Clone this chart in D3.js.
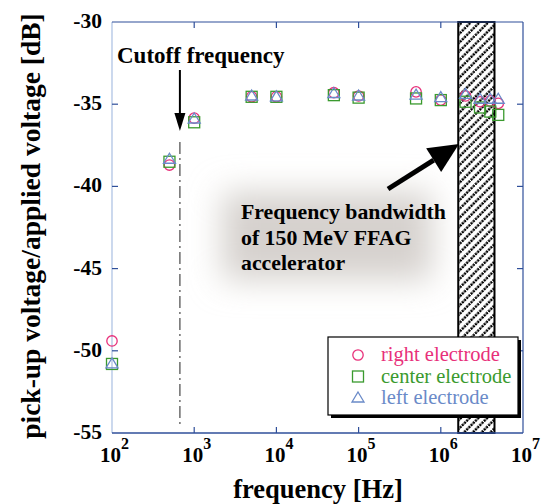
<!DOCTYPE html>
<html>
<head>
<meta charset="utf-8">
<script src="https://cdn.jsdelivr.net/npm/d3@7"></script>
<style>
  body { margin: 0; background: #fff; }
  svg { display: block; }
  text { font-family: "Liberation Serif", "Times New Roman", serif; }
</style>
</head>
<body>
<svg id="chart" width="541" height="504"></svg>
<script>
// measured frequencies (Hz)
var freqs = [100, 500, 1000, 5000, 10000, 50000, 100000, 500000, 1e6, 2e6, 3e6, 4e6, 5e6];
// response in dB for each electrode
var rightVals  = [-49.4, -38.7, -35.85, -34.55, -34.55, -34.3, -34.5, -34.25, -34.75, -34.5, -34.85, -34.8, -34.95];
var centerVals = [-50.8, -38.5, -36.1, -34.55, -34.55, -34.45, -34.6, -34.65, -34.75, -34.85, -35.2, -35.45, -35.65];
var leftVals   = [-50.8, -38.35, -35.9, -34.5, -34.55, -34.35, -34.5, -34.45, -34.6, -34.4, -34.7, -34.7, -34.7];
var yTicks = [-30, -35, -40, -45, -50, -55];
var xTicks = [1e2, 1e3, 1e4, 1e5, 1e6, 1e7];
var cutoff = 670;
var band = [1.63e6, 4.5e6];
var seriesNames = ["right electrode", "center electrode", "left electrode"];
var seriesColors = ["#e8307a", "#3a9a2e", "#6a8ac8"];

var svg = d3.select("#chart");
var m = {left: 112, right: 523, top: 22, bottom: 433};

var x = d3.scaleLog().domain([1e2, 1e7]).range([m.left, m.right]);
var y = d3.scaleLinear().domain([-55, -30]).range([m.bottom, m.top]);

var defs = svg.append("defs");
var pat = defs.append("pattern")
    .attr("id", "hatch")
    .attr("patternUnits", "userSpaceOnUse")
    .attr("width", 6.2).attr("height", 6.2)
    .attr("patternTransform", "rotate(45)");
pat.append("rect").attr("width", 6.2).attr("height", 6.2).attr("fill", "#fff");
pat.append("line").attr("x1", 1.5).attr("y1", 0).attr("x2", 1.5).attr("y2", 6.2)
    .attr("stroke", "#000").attr("stroke-width", 2.4).attr("stroke-dasharray", "2.3,0.8");

var blur = defs.append("filter").attr("id", "glow")
    .attr("x", "-40%").attr("y", "-80%").attr("width", "180%").attr("height", "260%");
blur.append("feGaussianBlur").attr("stdDeviation", 16);

// gray glow behind annotation
svg.append("rect")
    .attr("x", 222).attr("y", 192).attr("width", 210).attr("height", 88)
    .attr("fill", "#d6d1ce")
    .attr("filter", "url(#glow)");

// hatched bandwidth
svg.append("rect")
    .attr("x", x(band[0])).attr("y", m.top)
    .attr("width", x(band[1]) - x(band[0])).attr("height", m.bottom - m.top)
    .attr("fill", "url(#hatch)")
    .attr("stroke", "#000").attr("stroke-width", 2);

// frame
var axisBlue = "#2f4f9a";
svg.append("line").attr("x1", m.left).attr("x2", m.left).attr("y1", m.top).attr("y2", m.bottom)
    .attr("stroke", "#a9bfe2").attr("stroke-width", 1.2);
svg.append("line").attr("x1", m.left).attr("x2", m.right).attr("y1", m.top).attr("y2", m.top)
    .attr("stroke", axisBlue).attr("stroke-width", 1.2);
svg.append("line").attr("x1", m.right).attr("x2", m.right).attr("y1", m.top).attr("y2", m.bottom)
    .attr("stroke", axisBlue).attr("stroke-width", 1.2);
svg.append("line").attr("x1", m.left).attr("x2", m.right).attr("y1", m.bottom).attr("y2", m.bottom)
    .attr("stroke", axisBlue).attr("stroke-width", 1.5);

// ticks
var inner = yTicks.slice(1, -1);
svg.selectAll(".ytl").data(inner).enter().append("line")
    .attr("x1", m.left).attr("x2", m.left + 6)
    .attr("y1", function(d) { return y(d); }).attr("y2", function(d) { return y(d); })
    .attr("stroke", axisBlue).attr("stroke-width", 1.2);
svg.selectAll(".ytr").data(inner).enter().append("line")
    .attr("x1", m.right).attr("x2", m.right - 6)
    .attr("y1", function(d) { return y(d); }).attr("y2", function(d) { return y(d); })
    .attr("stroke", axisBlue).attr("stroke-width", 1.2);
var xInner = xTicks.slice(1, -1);
svg.selectAll(".xtb").data(xInner).enter().append("line")
    .attr("x1", function(d) { return x(d); }).attr("x2", function(d) { return x(d); })
    .attr("y1", m.bottom).attr("y2", m.bottom - 6)
    .attr("stroke", axisBlue).attr("stroke-width", 1.2);
svg.selectAll(".xtt").data(xInner).enter().append("line")
    .attr("x1", function(d) { return x(d); }).attr("x2", function(d) { return x(d); })
    .attr("y1", m.top).attr("y2", m.top + 6)
    .attr("stroke", axisBlue).attr("stroke-width", 1.2);

// tick labels
svg.selectAll(".ylab").data(yTicks).enter().append("text")
    .attr("x", 102).attr("y", function(d) { return y(d) + 6; })
    .attr("text-anchor", "end")
    .attr("font-size", 21.5).attr("font-weight", "bold")
    .text(function(d) { return d; });

var xl = svg.selectAll(".xlab").data(xTicks).enter().append("text")
    .attr("x", function(d) { return x(d) - 12; }).attr("y", 462)
    .attr("font-size", 21).attr("font-weight", "bold");
xl.append("tspan").text("10");
xl.append("tspan").attr("dy", -13).attr("font-size", 16)
    .text(function(d) { return Math.round(Math.log10(d)); });

// axis titles
svg.append("text")
    .attr("x", 318).attr("y", 498)
    .attr("text-anchor", "middle")
    .attr("font-size", 26.5).attr("font-weight", "bold")
    .text("frequency [Hz]");
svg.append("text")
    .attr("transform", "translate(40,226) rotate(-90)")
    .attr("text-anchor", "middle")
    .attr("font-size", 27.5).attr("font-weight", "bold")
    .text("pick-up voltage/applied voltage [dB]");

// cutoff line
svg.append("line")
    .attr("x1", x(cutoff)).attr("x2", x(cutoff))
    .attr("y1", 142).attr("y2", m.bottom - 8)
    .attr("stroke", "#555").attr("stroke-width", 1.3)
    .attr("stroke-dasharray", "12,4,2,4");

svg.append("text")
    .attr("x", 117).attr("y", 63)
    .attr("font-size", 23).attr("font-weight", "bold")
    .text("Cutoff frequency");

// arrows
function arrow(x1, y1, x2, y2, w, hl, hw) {
  var a = Math.atan2(y2 - y1, x2 - x1);
  var bx = x2 - hl * Math.cos(a), by = y2 - hl * Math.sin(a);
  var px = -Math.sin(a), py = Math.cos(a);
  svg.append("line").attr("x1", x1).attr("y1", y1).attr("x2", bx).attr("y2", by)
      .attr("stroke", "#000").attr("stroke-width", w);
  svg.append("path")
      .attr("d", "M" + x2 + "," + y2 + "L" + (bx + px * hw) + "," + (by + py * hw) +
                 "L" + (bx - px * hw) + "," + (by - py * hw) + "Z")
      .attr("fill", "#000");
}
arrow(x(cutoff), 70, x(cutoff), 131, 2, 18, 5.5);
arrow(388, 189, 459, 144, 5, 30, 14);

var ann = ["Frequency bandwidth", "of 150 MeV FFAG", "accelerator"];
svg.selectAll(".ann").data(ann).enter().append("text")
    .attr("x", 241).attr("y", function(d, i) { return 219 + i * 25.7; })
    .attr("font-size", 21.8).attr("font-weight", "bold")
    .text(function(d) { return d; });

// markers
function drawMarker(g, type, cx, cy, color) {
  if (type === 0) {
    g.append("circle").attr("cx", cx).attr("cy", cy).attr("r", 5.2)
        .attr("fill", "none").attr("stroke", color).attr("stroke-width", 1.3);
  } else if (type === 1) {
    g.append("rect").attr("x", cx - 5.5).attr("y", cy - 5.5).attr("width", 11).attr("height", 11)
        .attr("fill", "none").attr("stroke", color).attr("stroke-width", 1.3);
  } else {
    g.append("path")
        .attr("d", "M" + cx + "," + (cy - 6) + "L" + (cx + 6) + "," + (cy + 4) + "L" + (cx - 6) + "," + (cy + 4) + "Z")
        .attr("fill", "none").attr("stroke", color).attr("stroke-width", 1.3);
  }
}
var pts = svg.append("g");
[rightVals, centerVals, leftVals].forEach(function(vals, s) {
  vals.forEach(function(v, i) {
    drawMarker(pts, s, x(freqs[i]), y(v), seriesColors[s]);
  });
});

// legend
var lg = svg.append("g");
lg.append("rect").attr("x", 331).attr("y", 340).attr("width", 190).attr("height", 78).attr("fill", "#000");
lg.append("rect").attr("x", 328).attr("y", 337).attr("width", 190).attr("height", 78)
    .attr("fill", "#fff").attr("stroke", "#000").attr("stroke-width", 1.2);
seriesNames.forEach(function(name, i) {
  var ry = 355 + i * 21.5;
  drawMarker(lg, i, 358, ry, seriesColors[i]);
  lg.append("text").attr("x", 381).attr("y", ry + 6)
      .attr("font-size", 20.5).attr("fill", seriesColors[i])
      .text(name);
});
</script>
</body>
</html>
